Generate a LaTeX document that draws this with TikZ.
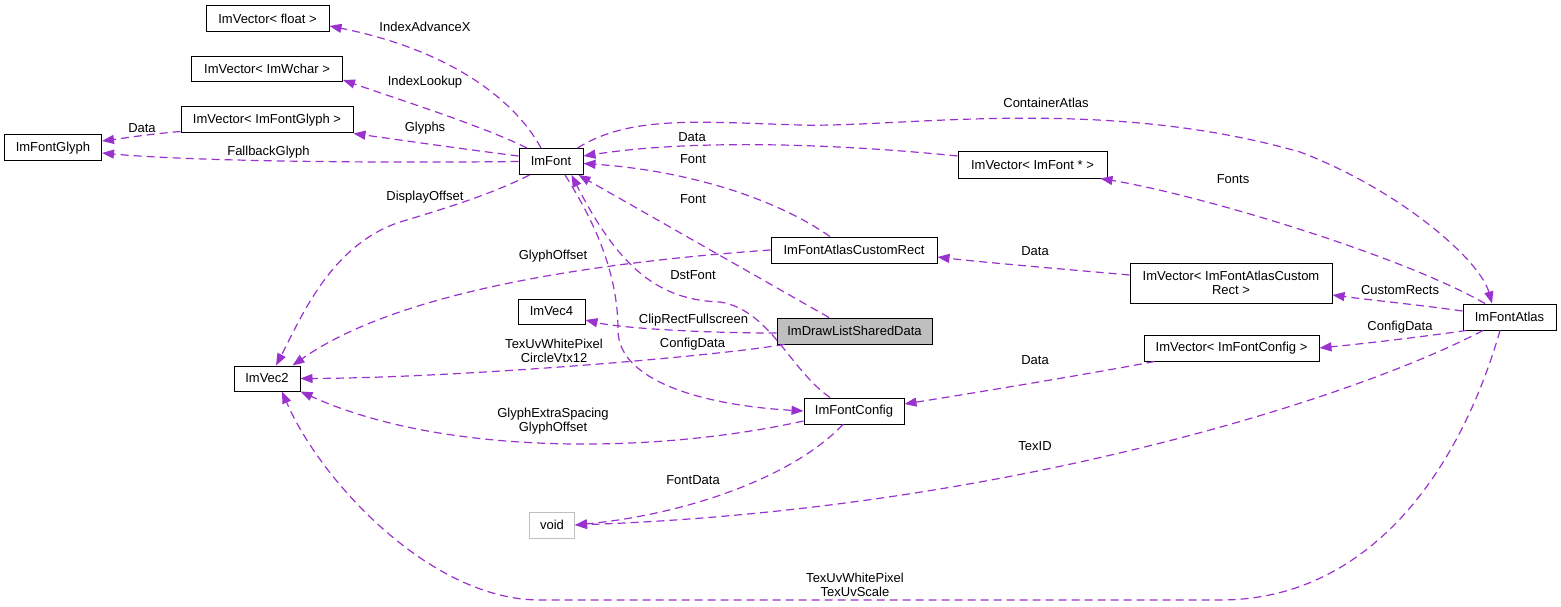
\documentclass[tikz,border=0pt]{standalone}
\usepackage{fontspec}
\setmainfont{Liberation Sans}
\usetikzlibrary{arrows.meta}
\definecolor{edgec}{HTML}{9A32CD}
\definecolor{grayfill}{HTML}{BFBFBF}
\begin{document}
\begin{tikzpicture}[x=1pt,y=-1pt,
  box/.style={draw=black, line width=1pt, minimum height=26pt, inner sep=0pt, font=\fontsize{13}{14.5}\selectfont, align=center},
  lbl/.style={font=\fontsize{13}{14.5}\selectfont, align=center, inner sep=0pt},
  edge/.style={draw=edgec, line width=1.2pt, dash pattern=on 8pt off 5pt, -{Triangle[length=12pt,width=9pt]}}]
\useasboundingbox (0,0) rectangle (1561,607);
% nodes
\node[box, minimum width=123pt] (vecFloat) at (267.5,18.5) {ImVector< float >};
\node[box, minimum width=151pt, minimum height=25pt] (vecWchar) at (267,69) {ImVector< ImWchar >};
\node[box, minimum width=172pt] (vecGlyph) at (267,120) {ImVector< ImFontGlyph >};
\node[box, minimum width=97pt] (glyph) at (53,148) {ImFontGlyph};
\node[box, minimum width=64pt] (font) at (551,161.5) {ImFont};
\node[box, minimum width=149pt] (vecFontPtr) at (1032.5,165) {ImVector< ImFont * >};
\node[box, minimum width=166pt] (customRect) at (854,250) {ImFontAtlasCustomRect};
\node[box, minimum width=202pt, minimum height=40pt] (vecCustomRect) at (1231,283) {ImVector< ImFontAtlasCustom\\Rect >};
\node[box, minimum width=93pt] (atlas) at (1509.5,317) {ImFontAtlas};
\node[box, minimum width=67pt, minimum height=25pt] (vec4) at (551.5,311.5) {ImVec4};
\node[box, minimum width=155pt, fill=grayfill] (drawList) at (854.5,331) {ImDrawListSharedData};
\node[box, minimum width=175pt] (vecConfig) at (1231.5,348) {ImVector< ImFontConfig >};
\node[box, minimum width=66pt, minimum height=25pt] (vec2) at (267,378.5) {ImVec2};
\node[box, minimum width=100pt] (config) at (854,411) {ImFontConfig};
\node[box, minimum width=45pt, draw=grayfill] (void) at (552,525) {void};
% edges
\draw[edge] ([xshift=-10pt]font.north) .. controls (515,100) and (450,50) .. ([yshift=-7.5pt]vecFloat.east);
\draw[edge] ([xshift=-24pt]font.north) .. controls (480,125) and (400,100) .. ([yshift=-11pt]vecWchar.east);
\draw[edge] ([yshift=5.5pt]font.west) .. controls (470,150) and (400,140) .. (vecGlyph.south east);
\draw[edge] (font.west) .. controls (400,163) and (200,162) .. ([yshift=-5pt]glyph.east);
\draw[edge] ([yshift=2pt]vecGlyph.south west) .. controls (150,134) and (125,138) .. ([yshift=7pt]glyph.east);
\draw[edge] ([xshift=11pt]font.south west) .. controls (490,195) and (440,210) .. (400,222) .. controls (330,245) and (300,320) .. ([xshift=9pt]vec2.north);
\draw[edge] (customRect.west) .. controls (600,262) and (400,290) .. ([xshift=-8pt]vec2.north east);
\draw[edge] ([yshift=-2pt]drawList.west) .. controls (700,333) and (620,328) .. ([yshift=-8.5pt]vec4.east);
\draw[edge] ([xshift=8pt]drawList.south west) .. controls (700,358) and (450,378) .. (vec2.east);
\draw[edge] ([yshift=-10pt]config.west) .. controls (650,455) and (440,455) .. (vec2.south east);
\draw[edge] ([xshift=-11pt]config.south) .. controls (790,480) and (680,515) .. (void.east);
\draw[edge] ([xshift=-26.5pt]atlas.south) .. controls (1350,400) and (1000,510) .. (void.east);
\draw[edge] ([xshift=-9.5pt]atlas.south) .. controls (1460,470) and (1370,600) .. (1220,600) -- (540,600) .. controls (430,600) and (320,480) .. ([xshift=15pt]vec2.south);
\draw[edge] ([xshift=-24pt]customRect.north) .. controls (770,195) and (680,170) .. ([yshift=-2pt]font.east);
\draw[edge] ([xshift=-25.5pt]drawList.north) -- ([xshift=-5pt]font.south east);
\draw[edge] ([xshift=-24pt]config.north) .. controls (790,370) and (770,310) .. (720,302) .. controls (660,300) and (620,270) .. ([xshift=-12pt]font.south east);
\draw[edge] ([xshift=14pt]font.south) .. controls (600,230) and (618,280) .. (618,330) .. controls (618,380) and (700,405) .. (config.west);
\draw[edge] ([yshift=9pt]vecFontPtr.west) .. controls (850,145) and (700,138) .. ([yshift=5.5pt]font.east);
\draw[edge] ([xshift=-6pt]font.north east) .. controls (630,115) and (700,122) .. (800,125) .. controls (900,128) and (1100,95) .. (1300,152) .. controls (1400,190) and (1480,260) .. ([xshift=-17.5pt]atlas.north);
\draw[edge] ([xshift=-24.5pt]atlas.north) .. controls (1400,255) and (1200,195) .. ([xshift=-7pt]vecFontPtr.south east);
\draw[edge] ([yshift=8pt]vecCustomRect.west) .. controls (1050,268) and (980,262) .. ([yshift=-7pt]customRect.east);
\draw[edge] ([yshift=6pt]atlas.west) .. controls (1420,305) and (1370,300) .. ([yshift=-12pt]vecCustomRect.east);
\draw[edge] ([xshift=4pt]atlas.south west) .. controls (1420,337) and (1370,343) .. (vecConfig.east);
\draw[edge] ([xshift=11pt]vecConfig.south west) .. controls (1100,372) and (980,392) .. ([yshift=7pt]config.east);
% labels
\node[lbl] (l1) at (425,27) {IndexAdvanceX};
\node[lbl] (l2) at (425,82) {IndexLookup};
\node[lbl] (l3) at (425,128) {Glyphs};
\node[lbl] (l4) at (268.5,152) {FallbackGlyph};
\node[lbl] (l5) at (142,128) {Data};
\node[lbl] (l6) at (425,197) {DisplayOffset};
\node[lbl] (l7) at (1046,103) {ContainerAtlas};
\node[lbl] (l8) at (692,137) {Data};
\node[lbl] (l9) at (693,159) {Font};
\node[lbl] (l10) at (693,199) {Font};
\node[lbl] (l11) at (1233,179) {Fonts};
\node[lbl] (l12) at (553,256) {GlyphOffset};
\node[lbl] (l13) at (1035,251) {Data};
\node[lbl] (l14) at (693,275) {DstFont};
\node[lbl] (l15) at (1400,290) {CustomRects};
\node[lbl] (l16) at (693.5,320) {ClipRectFullscreen};
\node[lbl] (l17) at (554,351) {TexUvWhitePixel\\CircleVtx12};
\node[lbl] (l18) at (692.5,344) {ConfigData};
\node[lbl] (l19) at (1400,327) {ConfigData};
\node[lbl] (l20) at (1035,360) {Data};
\node[lbl] (l21) at (553,421) {GlyphExtraSpacing\\GlyphOffset};
\node[lbl] (l22) at (1035,446) {TexID};
\node[lbl] (l23) at (693,480) {FontData};
\node[lbl] (l24) at (855,585) {TexUvWhitePixel\\TexUvScale};
\end{tikzpicture}
\end{document}
